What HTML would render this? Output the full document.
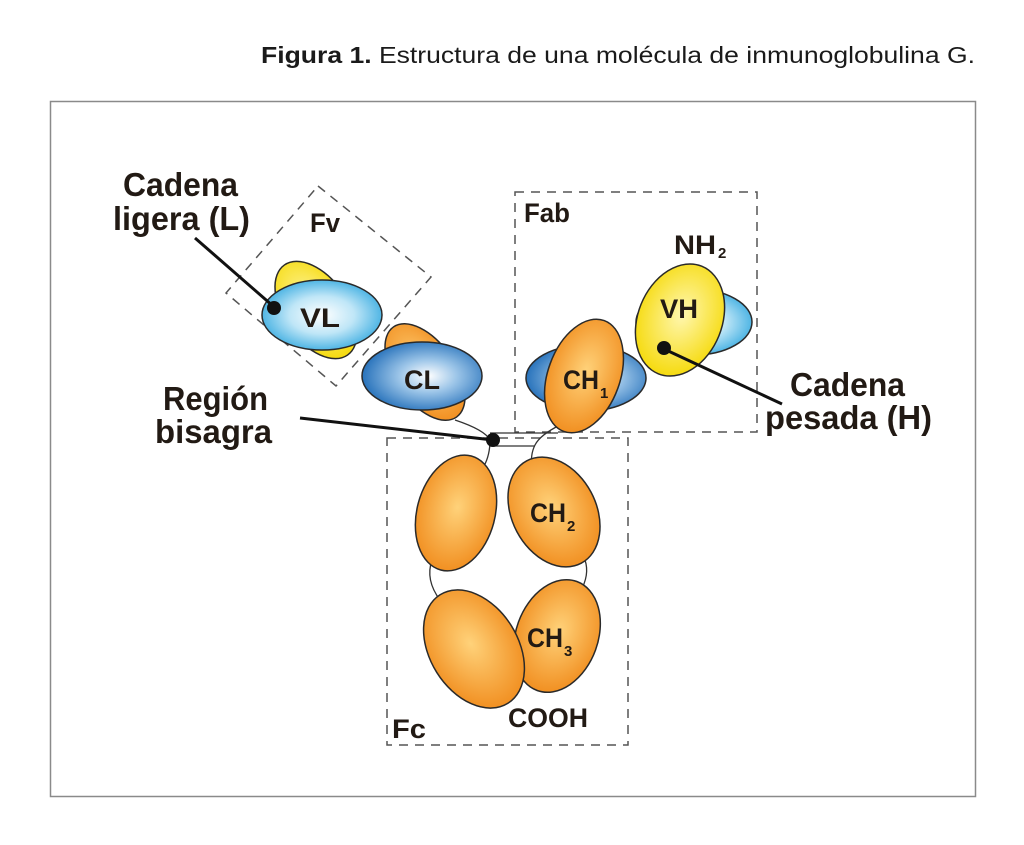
<!DOCTYPE html>
<html><head><meta charset="utf-8"><style>
html,body{margin:0;padding:0;background:#fff;width:1024px;height:845px;overflow:hidden}
svg{display:block}
.t{font-family:"Liberation Sans",sans-serif;font-weight:bold;fill:#221a14}
</style></head><body>
<svg width="1024" height="845" viewBox="0 0 1024 845" xmlns="http://www.w3.org/2000/svg">
<defs>
<radialGradient id="bl" cx="0.5" cy="0.5" r="0.6"><stop offset="0" stop-color="#ffffff"/><stop offset="0.45" stop-color="#bfe6f7"/><stop offset="1" stop-color="#1fa0dc"/></radialGradient>
<radialGradient id="bd" cx="0.55" cy="0.5" r="0.6"><stop offset="0" stop-color="#ffffff"/><stop offset="0.4" stop-color="#9cc5e8"/><stop offset="1" stop-color="#1565b4"/></radialGradient>
<radialGradient id="or" cx="0.5" cy="0.45" r="0.6"><stop offset="0" stop-color="#ffd27a"/><stop offset="1" stop-color="#f08a1a"/></radialGradient>
<radialGradient id="ye" cx="0.5" cy="0.45" r="0.6"><stop offset="0" stop-color="#fff7b0"/><stop offset="1" stop-color="#f5d800"/></radialGradient>
</defs>
<text x="261" y="63" textLength="714" lengthAdjust="spacingAndGlyphs" font-family="Liberation Sans,sans-serif" font-size="23" fill="#1a1a1a"><tspan font-weight="bold">Figura 1.</tspan> Estructura de una molécula de inmunoglobulina G.</text>
<rect x="50.5" y="101.5" width="925" height="695" fill="none" stroke="#8a8a8a" stroke-width="1.5"/>
<g fill="none" stroke="#555" stroke-width="1.5" stroke-dasharray="9,7">
<polygon points="318,186 431,277 336,386 226,293"/>
<rect x="515" y="192" width="242" height="240"/>
<rect x="387" y="438" width="241" height="307"/>
</g>
<g stroke="#333" stroke-width="1.3" fill="none">
<path d="M455,420 Q485,430 490,440 Q490,455 484,466"/>
<path d="M560,425 Q540,435 535,445 Q530,455 532,468"/>
<line x1="490" y1="433" x2="558" y2="433"/>
<line x1="490" y1="446" x2="535" y2="446"/>
<path d="M432,560 Q425,580 440,600"/>
<path d="M585,560 Q590,575 580,592"/>
</g>
<g stroke="#2a2a2a" stroke-width="1.5">
<ellipse cx="316" cy="310" rx="32" ry="55" transform="rotate(-35 316 310)" fill="url(#ye)"/>
<ellipse cx="322" cy="315" rx="60" ry="35" fill="url(#bl)"/>
<ellipse cx="425" cy="372" rx="30" ry="55" transform="rotate(-35 425 372)" fill="url(#or)"/>
<ellipse cx="422" cy="376" rx="60" ry="34" fill="url(#bd)"/>
<ellipse cx="586" cy="378" rx="60" ry="33" fill="url(#bd)"/>
<ellipse cx="584" cy="376" rx="36" ry="59" transform="rotate(20 584 376)" fill="url(#or)"/>
<ellipse cx="694" cy="322" rx="58" ry="33" fill="url(#bl)"/>
<ellipse cx="680" cy="320" rx="42" ry="58" transform="rotate(22 680 320)" fill="url(#ye)"/>
<ellipse cx="456" cy="513" rx="39" ry="59" transform="rotate(15 456 513)" fill="url(#or)"/>
<ellipse cx="554" cy="512" rx="42" ry="58" transform="rotate(-28 554 512)" fill="url(#or)"/>
<ellipse cx="557" cy="636" rx="41" ry="58" transform="rotate(20 557 636)" fill="url(#or)"/>
<ellipse cx="474" cy="649" rx="44" ry="64" transform="rotate(-32 474 649)" fill="url(#or)"/>
</g>
<g stroke="#111" stroke-width="3">
<line x1="195" y1="238" x2="273" y2="306"/>
<line x1="300" y1="418" x2="493" y2="440"/>
<line x1="664" y1="349" x2="782" y2="404"/>
</g>
<circle cx="274" cy="308" r="7" fill="#111"/>
<circle cx="493" cy="440" r="7" fill="#111"/>
<circle cx="664" cy="348" r="7" fill="#111"/>
<g class="t" font-size="33">
<text x="123" y="196" textLength="115" lengthAdjust="spacingAndGlyphs">Cadena</text>
<text x="113" y="230" textLength="137" lengthAdjust="spacingAndGlyphs">ligera (L)</text>
<text x="163" y="410" textLength="105" lengthAdjust="spacingAndGlyphs">Región</text>
<text x="155" y="443" textLength="117" lengthAdjust="spacingAndGlyphs">bisagra</text>
<text x="790" y="396" textLength="115" lengthAdjust="spacingAndGlyphs">Cadena</text>
<text x="765" y="429" textLength="167" lengthAdjust="spacingAndGlyphs">pesada (H)</text>
</g>
<g class="t" font-size="27">
<text x="310" y="232" textLength="30" lengthAdjust="spacingAndGlyphs">Fv</text>
<text x="524" y="222" textLength="46" lengthAdjust="spacingAndGlyphs">Fab</text>
<text x="392" y="738" textLength="34" lengthAdjust="spacingAndGlyphs">Fc</text>
<text x="508" y="727" textLength="80" lengthAdjust="spacingAndGlyphs">COOH</text>
<text x="674" y="254" textLength="42" lengthAdjust="spacingAndGlyphs">NH</text><text x="718" y="258" font-size="15">2</text>
<text x="300" y="327" textLength="40" lengthAdjust="spacingAndGlyphs">VL</text>
<text x="404" y="389" textLength="36" lengthAdjust="spacingAndGlyphs">CL</text>
<text x="563" y="389" textLength="36" lengthAdjust="spacingAndGlyphs">CH</text><text x="600" y="398" font-size="15">1</text>
<text x="660" y="318" textLength="38" lengthAdjust="spacingAndGlyphs">VH</text>
<text x="530" y="522" textLength="36" lengthAdjust="spacingAndGlyphs">CH</text><text x="567" y="531" font-size="15">2</text>
<text x="527" y="647" textLength="36" lengthAdjust="spacingAndGlyphs">CH</text><text x="564" y="656" font-size="15">3</text>
</g>
</svg>
</body></html>
